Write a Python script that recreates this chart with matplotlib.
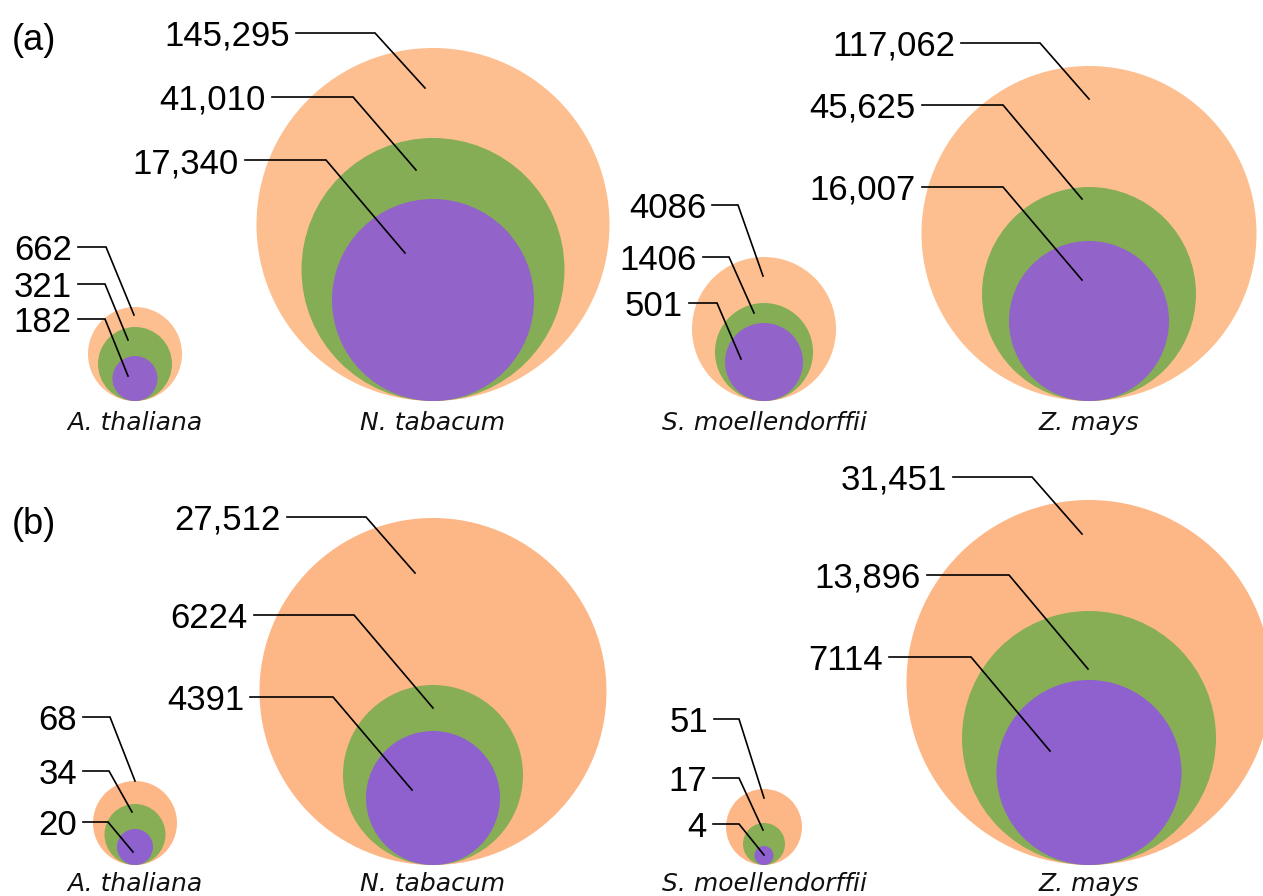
import matplotlib.pyplot as plt
from matplotlib.patches import Circle

# species shown in both panels
species = ["A. thaliana", "N. tabacum", "S. moellendorffii", "Z. mays"]

# counts per species, outer -> inner circle
counts_a = [[662, 321, 182], [145295, 41010, 17340], [4086, 1406, 501], [117062, 45625, 16007]]
counts_b = [[68, 34, 20], [27512, 6224, 4391], [51, 17, 4], [31451, 13896, 7114]]

# circle radii (pixels), outer -> inner
radius_a = [[47, 37, 22.5], [176.5, 131.5, 101], [72, 49, 39], [167.5, 107, 80]]
radius_b = [[42, 30.5, 18], [173.5, 90, 67], [38, 21, 9.5], [182.5, 127, 92.5]]

# leader layout: (line start x, knee x, label y, anchor x, anchor y)
leaders_a = [
    [(78, 106, 247, 134, 315), (78, 105, 284, 128, 340), (78, 105, 319, 128, 376)],
    [(296, 375, 33, 425, 88), (272, 353, 97, 416, 170), (245, 326, 160, 405, 253)],
    [(712, 738, 205, 763, 276), (703, 729, 257, 754, 313), (689, 717, 303, 741, 359)],
    [(961, 1040, 43, 1089, 99), (922, 1003, 105, 1082, 199), (922, 1003, 187, 1082, 280)],
]
leaders_b = [
    [(83, 110, 717, 135, 781), (83, 109, 771, 132, 812), (83, 108, 822, 133, 852)],
    [(287, 366, 517, 415, 573), (254, 354, 615, 433, 708), (250, 333, 697, 412, 790)],
    [(714, 739, 719, 764, 798), (713, 739, 778, 763, 830), (713, 739, 824, 764, 855)],
    [(953, 1032, 477, 1082, 534), (927, 1009, 575, 1088, 669), (889, 971, 657, 1050, 751)],
]

col_x = [135, 433, 764, 1089]
colors_a = ["#FDBF8F", "#85AD55", "#9263C8"]
colors_b = ["#FDB686", "#87AE55", "#8E61CE"]

NUM_FONT = "Liberation Sans"


def fmt(v):
    return f"{v:,}" if v >= 10000 else str(v)


def draw_panel(ax, counts, radii, leaders, colors, base_y, name_y, tag, tag_y):
    for i, name in enumerate(species):
        cx = col_x[i]
        for r, c in zip(radii[i], colors):
            ax.add_patch(Circle((cx, base_y - r), r, facecolor=c, edgecolor="none", zorder=1))
        for v, (lx, kx, ly, axx, ayy) in zip(counts[i], leaders[i]):
            ax.plot([lx, kx, axx], [ly, ly, ayy], color="black", lw=1.2,
                    solid_joinstyle="miter", zorder=3)
            ax.text(lx - 6, ly, fmt(v), ha="right", va="center_baseline",
                    fontsize=25, family=NUM_FONT, zorder=4)
        ax.text(cx, name_y, name, ha="center", va="baseline", fontsize=18,
                style="italic", family="DejaVu Sans", color="#111111")
    ax.text(12, tag_y, tag, ha="left", va="center_baseline", fontsize=26, family=NUM_FONT)


fig = plt.figure(figsize=(12.63, 8.96), dpi=100)
ax = fig.add_axes([0, 0, 1, 1])
ax.set_xlim(0, 1263)
ax.set_ylim(896, 0)
ax.set_aspect("equal")
ax.axis("off")

draw_panel(ax, counts_a, radius_a, leaders_a, colors_a, 401, 430, "(a)", 36)
draw_panel(ax, counts_b, radius_b, leaders_b, colors_b, 865, 891, "(b)", 520)

fig.savefig("out.png", dpi=100)
